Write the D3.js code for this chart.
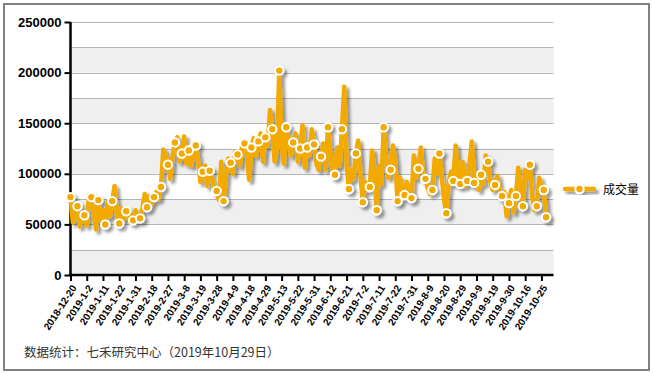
<!DOCTYPE html>
<html>
<head>
<meta charset="utf-8">
<script src="https://cdn.jsdelivr.net/npm/d3@7"></script>
<style>
  body { margin: 0; background: #fff; }
  svg { display: block; }
</style>
</head>
<body>
<svg id="chart"></svg>
<script>
// tick labels shown under the x axis (one every 7 trading days)
const tickLabels = ["2018-12-20","2019-1-2","2019-1-11","2019-1-22","2019-1-31","2019-2-18","2019-2-27",
    "2019-3-8","2019-3-19","2019-3-28","2019-4-9","2019-4-18","2019-4-29","2019-5-13","2019-5-22",
    "2019-5-31","2019-6-12","2019-6-21","2019-7-2","2019-7-11","2019-7-22","2019-7-31","2019-8-9",
    "2019-8-20","2019-8-29","2019-9-9","2019-9-19","2019-9-30","2019-10-16","2019-10-25"];

const yTicks = [0, 50000, 100000, 150000, 200000, 250000];

const seriesName = "成交量";

// daily volume, 2018-12-20 .. 2019-10-29
const volume = [
    77000, 52000, 64000, 68000, 48000, 60000, 59000, 49000, 79000, 77000,
    60000, 45000, 74000, 55000, 64000, 50000, 72000, 58000, 73000, 88000,
    60000, 51000, 66000, 55000, 63000, 60000, 52000, 54000, 64000, 58000,
    56000, 66000, 80000, 67000, 78000, 70000, 77000, 82000, 75000, 87000,
    124000, 118000, 109000, 95000, 118000, 131000, 136000, 112000, 120000, 137000,
    110000, 123000, 108000, 120000, 128000, 114000, 92000, 102000, 108000, 88000,
    103000, 95000, 86000, 83000, 74000, 112000, 73000, 98000, 115000, 111000,
    100000, 122000, 119000, 108000, 128000, 130000, 120000, 94000, 126000, 135000,
    118000, 132000, 140000, 112000, 136000, 128000, 163000, 144000, 112000, 126000,
    202000, 128000, 110000, 146000, 134000, 118000, 131000, 140000, 112000, 125000,
    148000, 106000, 126000, 118000, 144000, 129000, 110000, 104000, 117000, 130000,
    104000, 146000, 122000, 104000, 99000, 126000, 108000, 144000, 186000, 110000,
    85000, 104000, 95000, 120000, 133000, 98000, 72000, 92000, 84000, 87000,
    123000, 100000, 64000, 108000, 90000, 146000, 118000, 96000, 104000, 128000,
    112000, 73000, 96000, 86000, 79000, 92000, 80000, 76000, 118000, 96000,
    105000, 126000, 100000, 95000, 86000, 80000, 84000, 115000, 100000, 120000,
    98000, 75000, 61000, 90000, 102000, 93000, 128000, 100000, 90000, 112000,
    88000, 93000, 110000, 132000, 91000, 100000, 84000, 99000, 90000, 118000,
    112000, 92000, 84000, 89000, 98000, 80000, 78000, 82000, 58000, 71000,
    84000, 62000, 78000, 106000, 82000, 68000, 104000, 96000, 109000, 78000,
    64000, 68000, 96000, 88000, 84000, 57000
];

document.addEventListener("DOMContentLoaded", function() {
    const W = 653, H = 374;
    const plot = { left: 70.5, right: 553.5, top: 22, bottom: 275 };
    const orange = "#f2a900";

    const svg = d3.select("#chart").attr("width", W).attr("height", H);

    // drop shadow used by the line, markers and legend
    const defs = svg.append("defs");
    const f = defs.append("filter").attr("id", "shadow")
        .attr("x", "-10%").attr("y", "-10%").attr("width", "130%").attr("height", "130%");
    f.append("feDropShadow")
        .attr("dx", 3).attr("dy", 3).attr("stdDeviation", 1.6)
        .attr("flood-color", "#000").attr("flood-opacity", 0.4);

    // outer frame
    svg.append("rect")
        .attr("x", 4).attr("y", 4).attr("width", 645).attr("height", 366)
        .attr("fill", "#fff").attr("stroke", "#808080").attr("stroke-width", 2);

    // scales
    const x = d3.scaleLinear().domain([0, 208.2]).range([plot.left, plot.right]);
    const y = d3.scaleLinear().domain([0, 250000]).range([plot.bottom, plot.top]);

    // alternating bands + grid lines every 25000
    const bandStarts = d3.range(0, 250000, 50000);
    svg.append("g").selectAll("rect").data(bandStarts).enter().append("rect")
        .attr("x", plot.left).attr("width", plot.right - plot.left)
        .attr("y", d => y(d + 25000)).attr("height", d => y(d) - y(d + 25000))
        .attr("fill", "#efefef");

    svg.append("g").selectAll("line").data(d3.range(25000, 250001, 25000)).enter().append("line")
        .attr("x1", plot.left).attr("x2", plot.right)
        .attr("y1", d => Math.round(y(d)) + 0.5).attr("y2", d => Math.round(y(d)) + 0.5)
        .attr("stroke", "#b4b4b4").attr("stroke-width", 1);

    // y axis
    const yAxis = svg.append("g")
        .attr("transform", `translate(${plot.left}, 0)`)
        .call(d3.axisLeft(y).tickValues(yTicks).tickSize(6).tickPadding(3).tickFormat(d3.format("d")));
    yAxis.select(".domain").attr("stroke", "#000").attr("stroke-width", 2.5)
        .attr("d", `M0,${plot.top}V${plot.bottom}`);
    yAxis.selectAll(".tick line").attr("stroke", "#000").attr("stroke-width", 2);
    yAxis.selectAll("text")
        .style("font-family", "'Liberation Sans', Arial, sans-serif")
        .style("font-size", "13px").style("font-weight", "bold").attr("fill", "#000");

    // x axis
    const tickIdx = tickLabels.map((d, i) => i * 7);
    const xAxis = svg.append("g")
        .attr("transform", `translate(0, ${plot.bottom})`)
        .call(d3.axisBottom(x).tickValues(tickIdx).tickSize(6)
            .tickFormat((d, i) => tickLabels[i]));
    xAxis.select(".domain").attr("stroke", "#000").attr("stroke-width", 2.5)
        .attr("d", `M${plot.left - 1},0H${plot.right}`);
    xAxis.selectAll(".tick line").attr("stroke", "#000").attr("stroke-width", 2);
    xAxis.selectAll("text")
        .style("font-family", "'Liberation Sans', Arial, sans-serif")
        .style("font-size", "10px").style("font-weight", "bold").attr("fill", "#000")
        .attr("text-anchor", "end")
        .attr("x", 0).attr("y", 0).attr("dy", "0.35em")
        .attr("transform", "translate(3, 11) rotate(-57)");

    // series line
    const line = d3.line().x((d, i) => x(i)).y(d => y(d));
    const series = svg.append("g").attr("filter", "url(#shadow)");
    series.append("path")
        .datum(volume)
        .attr("d", line)
        .attr("fill", "none")
        .attr("stroke", orange)
        .attr("stroke-width", 4.5)
        .attr("stroke-linejoin", "round")
        .attr("stroke-linecap", "round");

    // markers on every third point plus the last one
    const marked = volume.map((v, i) => ({ i: i, v: v }))
        .filter(d => d.i % 3 === 0 || d.i === volume.length - 1);
    series.selectAll("circle").data(marked).enter().append("circle")
        .attr("cx", d => x(d.i))
        .attr("cy", d => y(d.v))
        .attr("r", 4.2)
        .attr("fill", orange)
        .attr("stroke", "#fff")
        .attr("stroke-width", 2);

    // legend
    const lg = svg.append("g").attr("transform", "translate(565, 189)");
    const lgMark = lg.append("g").attr("filter", "url(#shadow)");
    lgMark.append("line").attr("x1", 0).attr("x2", 29).attr("y1", 0).attr("y2", 0)
        .attr("stroke", orange).attr("stroke-width", 4.5).attr("stroke-linecap", "round");
    lgMark.append("circle").attr("cx", 14.5).attr("cy", 0).attr("r", 4.2)
        .attr("fill", orange).attr("stroke", "#fff").attr("stroke-width", 2);
    lg.append("text")
        .attr("x", 38).attr("y", 0).attr("dy", "0.38em")
        .style("font-family", "'Noto Sans CJK SC', sans-serif")
        .style("font-size", "12px").attr("fill", "#000")
        .text(seriesName);

    // source note
    svg.append("text")
        .attr("x", 24).attr("y", 357)
        .style("font-family", "'Noto Sans CJK SC', sans-serif")
        .style("font-size", "12.5px").attr("fill", "#333")
        .text("数据统计：七禾研究中心（2019年10月29日）");
});
</script>
</body>
</html>
